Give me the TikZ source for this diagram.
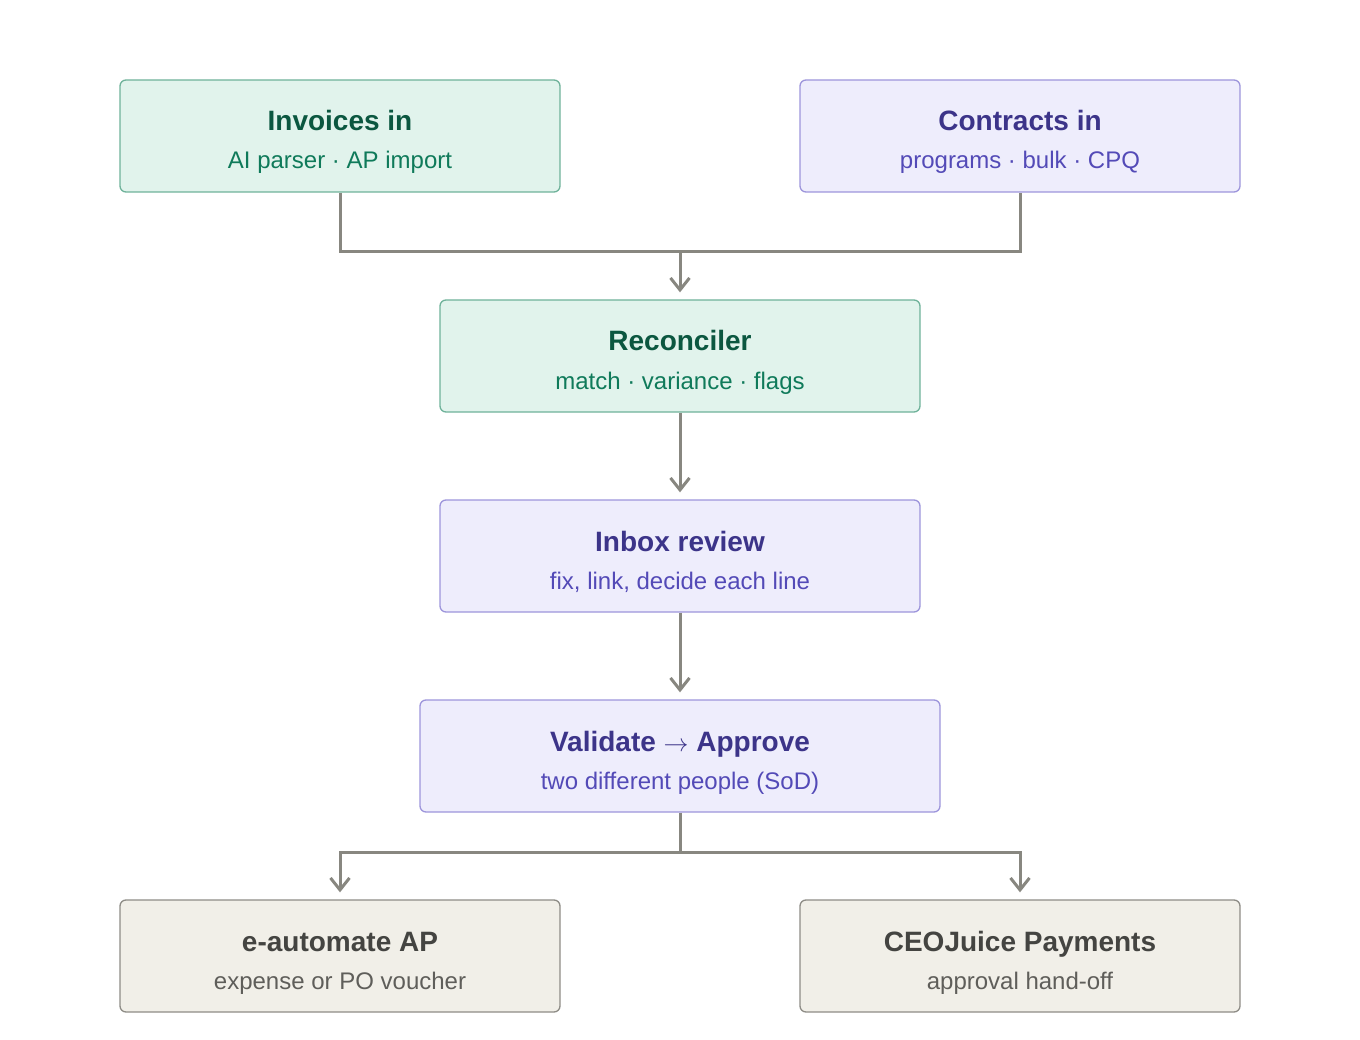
\documentclass[tikz,border=0pt]{standalone}
\usepackage{fontspec}
\setmainfont{Liberation Sans}
\usetikzlibrary{arrows.meta,positioning}
\definecolor{gfill}{HTML}{E1F3EC}
\definecolor{gdraw}{HTML}{6FB29A}
\definecolor{gtitle}{HTML}{0B5740}
\definecolor{gsub}{HTML}{0F7A5A}
\definecolor{pfill}{HTML}{EEEDFC}
\definecolor{pdraw}{HTML}{9D95DB}
\definecolor{ptitle}{HTML}{3C3489}
\definecolor{psub}{HTML}{534AB7}
\definecolor{bfill}{HTML}{F1EFE8}
\definecolor{bdraw}{HTML}{8E8C86}
\definecolor{btitle}{HTML}{444441}
\definecolor{bsub}{HTML}{5F5E5A}
\definecolor{conn}{HTML}{888780}
\tikzset{
  box/.style={rounded corners=6pt, line width=1.3pt, minimum height=112pt, inner sep=0pt},
  gbox/.style={box, fill=gfill, draw=gdraw},
  pbox/.style={box, fill=pfill, draw=pdraw},
  bbox/.style={box, fill=bfill, draw=bdraw},
  ttl/.style={anchor=base, inner sep=0pt, font=\fontsize{28}{32}\selectfont\bfseries},
  sub/.style={anchor=base, inner sep=0pt, font=\fontsize{24}{28}\selectfont},
  link/.style={draw=conn, line width=3pt},
  arr/.style={link, -{Straight Barb[length=12pt,width=19pt,line width=3pt]}, shorten >=7pt},
}
\begin{document}
\begin{tikzpicture}[x=1pt,y=-1pt]
\useasboundingbox (0,0) rectangle (1360,1040);
\node[gbox, minimum width=440pt] (inv) at (340,136) {};
\node[ttl, text=gtitle] (invT) at ([yshift=5pt]inv.center) {Invoices in};
\node[sub, text=gsub] (invS) at ([yshift=-33pt]inv.center) {AI parser · AP import};
\node[pbox, minimum width=440pt] (con) at (1020,136) {};
\node[ttl, text=ptitle] (conT) at ([yshift=5pt]con.center) {Contracts in};
\node[sub, text=psub] (conS) at ([yshift=-33pt]con.center) {programs · bulk · CPQ};
\node[gbox, minimum width=480pt] (rec) at (680,356) {};
\node[ttl, text=gtitle] (recT) at ([yshift=5pt]rec.center) {Reconciler};
\node[sub, text=gsub] (recS) at ([yshift=-33pt]rec.center) {match · variance · flags};
\node[pbox, minimum width=480pt] (inb) at (680,556) {};
\node[ttl, text=ptitle] (inbT) at ([yshift=5pt]inb.center) {Inbox review};
\node[sub, text=psub] (inbS) at ([yshift=-33pt]inb.center) {fix, link, decide each line};
\node[pbox, minimum width=520pt] (val) at (680,756) {};
\node[ttl, text=ptitle] (valT) at ([yshift=5pt]val.center) {Validate {\mdseries$\rightarrow$} Approve};
\node[sub, text=psub] (valS) at ([yshift=-33pt]val.center) {two different people (SoD)};
\node[bbox, minimum width=440pt] (eaut) at (340,956) {};
\node[ttl, text=btitle] (eautT) at ([yshift=5pt]eaut.center) {e-automate AP};
\node[sub, text=bsub] (eautS) at ([yshift=-33pt]eaut.center) {expense or PO voucher};
\node[bbox, minimum width=440pt] (ceo) at (1020,956) {};
\node[ttl, text=btitle] (ceoT) at ([yshift=5pt]ceo.center) {CEOJuice Payments};
\node[sub, text=bsub] (ceoS) at ([yshift=-33pt]ceo.center) {approval hand-off};
\coordinate (m1) at (680,252);
\coordinate (m2) at (680,852);
\draw[link] (inv.south) -- (340,252) -- (1020,252) -- (con.south);
\draw[arr] (m1) -- (rec.north);
\draw[arr] (rec.south) -- (inb.north);
\draw[arr] (inb.south) -- (val.north);
\draw[link] (val.south) -- (m2);
\draw[arr] (m2) -- (340,852) -- (eaut.north);
\draw[arr] (m2) -- (1020,852) -- (ceo.north);
\end{tikzpicture}
\end{document}
